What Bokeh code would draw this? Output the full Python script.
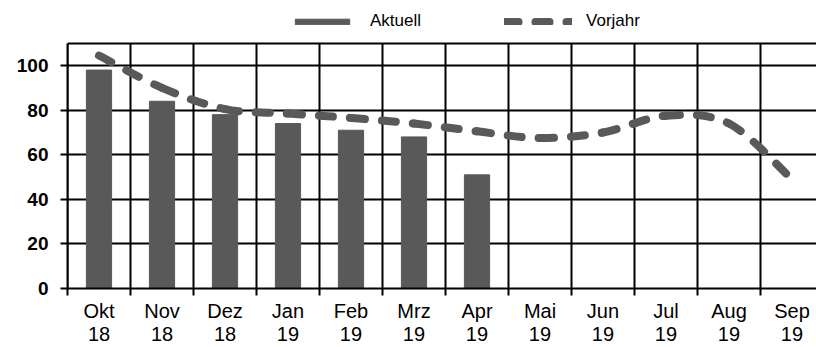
import numpy as np
from bokeh.plotting import figure
from bokeh.models import Range1d, FixedTicker, Legend, LegendItem
from bokeh.embed import file_html
from bokeh.resources import INLINE

months = ["Okt", "Nov", "Dez", "Jan", "Feb", "Mrz", "Apr", "Mai", "Jun", "Jul", "Aug", "Sep"]
years = ["18", "18", "18", "19", "19", "19", "19", "19", "19", "19", "19", "19"]
aktuell = [98, 84, 78, 74, 71, 68, 51]
vorjahr = [104.5, 90, 80.5, 78.5, 76.5, 74, 70.5, 67.5, 70, 77.5, 74, 49]
y_ticks = [0, 20, 40, 60, 80, 100]
y_top = 110

GRAY = "#595959"
FONT = "Liberation Sans"

centers = np.arange(len(months)) + 0.5
bounds = [float(b) for b in range(len(months) + 1)]

p = figure(width=816, height=347, output_backend="svg", toolbar_location=None,
           x_range=Range1d(0, 11.889), y_range=Range1d(0, 129.2),
           min_border_left=67, min_border_right=0, min_border_top=0, min_border_bottom=58)
p.background_fill_color = "white"
p.border_fill_color = "white"
p.outline_line_color = None

# vertical grid lines between the months, only up to the top of the value area
p.segment(x0=bounds, y0=[0] * len(bounds), x1=bounds, y1=[y_top] * len(bounds),
          line_color="black", line_width=2)

bars = p.vbar(x=list(centers[:len(aktuell)]), top=aktuell, width=0.4,
              fill_color=GRAY, line_color=GRAY)

# smooth line via bezier segments (control points from neighbouring data points)
vx = centers[:len(vorjahr)]
vy = np.array(vorjahr, dtype=float)
n = len(vx)
px = np.concatenate([[vx[0]], vx, [vx[-1]]])
py = np.concatenate([[vy[0]], vy, [vy[-1]]])
x0 = vx[:-1]; y0 = vy[:-1]; x1 = vx[1:]; y1 = vy[1:]
cx0 = px[1:n] + (px[2:n+1] - px[0:n-1]) / 6.0
cy0 = py[1:n] + (py[2:n+1] - py[0:n-1]) / 6.0
cx1 = px[2:n+1] - (px[3:n+2] - px[1:n]) / 6.0
cy1 = py[2:n+1] - (py[3:n+2] - py[1:n]) / 6.0
curve = p.bezier(x0=list(x0), y0=list(y0), x1=list(x1), y1=list(y1),
                 cx0=list(cx0), cy0=list(cy0), cx1=list(cx1), cy1=list(cy1),
                 line_color=GRAY, line_width=8, line_dash="14 17", line_cap="round")

# axes
p.xaxis.ticker = FixedTicker(ticks=[float(c) for c in centers], minor_ticks=bounds)
p.xaxis.major_label_overrides = {float(c): f"{m}\n{y}" for c, m, y in zip(centers, months, years)}
p.xaxis.major_tick_line_color = None
p.xaxis.major_tick_out = 0
p.xaxis.major_tick_in = 0
p.xaxis.minor_tick_line_color = "black"
p.xaxis.minor_tick_line_width = 2
p.xaxis.minor_tick_out = 7
p.xaxis.minor_tick_in = 0
p.xaxis.axis_line_color = "black"
p.xaxis.axis_line_width = 2
p.xaxis.major_label_text_font = FONT
p.xaxis.major_label_text_font_size = "20px"
p.xaxis.major_label_text_line_height = 1.05
p.xaxis.major_label_text_color = "black"
p.xaxis.major_label_standoff = 4

p.yaxis.ticker = FixedTicker(ticks=y_ticks)
p.yaxis.bounds = (0, y_top)
p.yaxis.minor_tick_line_color = None
p.yaxis.major_tick_out = 7
p.yaxis.major_tick_in = 0
p.yaxis.major_tick_line_width = 2
p.yaxis.major_tick_line_color = "black"
p.yaxis.axis_line_color = "black"
p.yaxis.axis_line_width = 2
p.yaxis.major_label_text_font = FONT
p.yaxis.major_label_text_font_style = "bold"
p.yaxis.major_label_text_font_size = "19px"
p.yaxis.major_label_text_color = "black"
p.yaxis.major_label_standoff = 12

p.xgrid.grid_line_color = None
p.ygrid.ticker = FixedTicker(ticks=y_ticks + [y_top])
p.ygrid.grid_line_color = "black"
p.ygrid.grid_line_width = 2

legend = Legend(items=[LegendItem(label="Aktuell", renderers=[bars]),
                       LegendItem(label="Vorjahr", renderers=[curve])],
                orientation="horizontal", location=(221, 257))
legend.border_line_color = None
legend.background_fill_alpha = 0
legend.label_text_font = FONT
legend.label_text_font_size = "17px"
legend.label_text_color = "black"
legend.glyph_width = 68
legend.glyph_height = 7
legend.label_standoff = 14
legend.spacing = 83
legend.padding = 0
legend.margin = 0
p.add_layout(legend, "center")

open("out.html", "w").write(file_html(p, INLINE))
